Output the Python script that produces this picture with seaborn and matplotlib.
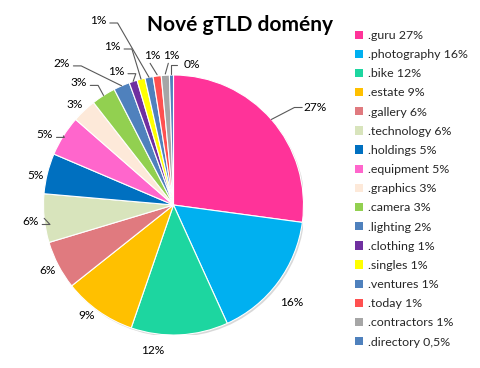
import numpy as np
import matplotlib
matplotlib.use("Agg")
import matplotlib.pyplot as plt
import matplotlib.patches as mpatches
import seaborn as sns

# ---- data ----
domains = [".guru", ".photography", ".bike", ".estate", ".gallery", ".technology",
           ".holdings", ".equipment", ".graphics", ".camera", ".lighting", ".clothing",
           ".singles", ".ventures", ".today", ".contractors", ".directory"]
shares = [27, 16, 12, 9, 6, 6, 5, 5, 3, 3, 2, 1, 1, 1, 1, 1, 0.5]
legend_pct = ["27%", "16%", "12%", "9%", "6%", "6%", "5%", "5%", "3%", "3%", "2%",
              "1%", "1%", "1%", "1%", "1%", "0,5%"]
slice_labels = ["27%", "16%", "12%", "9%", "6%", "6%", "5%", "5%", "3%", "3%", "2%",
                "1%", "1%", "1%", "1%", "1%", "0%"]
colors = ["#FF3399", "#00B0F0", "#1DD6A0", "#FFC000", "#E07A7F", "#D8E4BC",
          "#0070C0", "#FF66CC", "#FDE9D9", "#92D050", "#4F81BD", "#7030A0",
          "#FFFF00", "#4F81BD", "#FF5050", "#A6A6A6", "#4F81BD"]

# label layout (pie units) and leader-line side
label_pos = [(1.09, 0.75), (0.91, -0.75), (-0.16, -1.12), (-0.67, -0.85), (-0.97, -0.50),
             (-1.10, -0.13), (-1.06, 0.23), (-0.99, 0.54), (-0.76, 0.77), (-0.73, 0.94),
             (-0.86, 1.09), (-0.44, 1.03), (-0.47, 1.22), (-0.58, 1.42), (-0.16, 1.15),
             (-0.02, 1.15), (0.14, 1.08)]
leader = ["l", None, None, None, None, "r", None, "r", None, "r", "r", "r", "r", "r", "b", "b", "l"]

sns.set_theme(style="white")
plt.rcParams["font.family"] = ["Lato", "DejaVu Sans"]
palette = sns.color_palette(colors)

W, H = 480, 368
fig = plt.figure(figsize=(W / 100, H / 100), dpi=100)
cx, cy, R = 173.5, 205, 130
ax = fig.add_axes([(cx - R) / W, (H - cy - R) / H, 2 * R / W, 2 * R / H])

wedges, _ = ax.pie(shares, colors=palette, startangle=90, counterclock=False, radius=1.0,
                   wedgeprops=dict(edgecolor="white", linewidth=0.8))
ax.set_xlim(-1, 1)
ax.set_ylim(-1, 1)
ax.set_aspect("equal")
ax.axis("off")
for w in wedges:
    w.set_zorder(1)

# soft shadow
ax.add_patch(mpatches.Circle((0.012, -0.014), 1.0, color="#bfbfbf", alpha=0.6, zorder=0, lw=0))

fs = 8.6
for w, lab, (tx, ty), side in zip(wedges, slice_labels, label_pos, leader):
    ang = np.deg2rad((w.theta1 + w.theta2) / 2)
    ex, ey = np.cos(ang), np.sin(ang)
    ax.text(tx, ty, lab, ha="center", va="center", fontsize=fs, color="#000000",
            clip_on=False, zorder=3)
    if side is not None:
        if side == "l":
            ax_, ay_ = tx - 0.14, ty
            xs = [ex, ax_ - 0.02, ax_ + 0.04]
            ys = [ey, ay_, ay_]
            if lab == "0%":
                xs = [ex, ex, tx - 0.11]
                ys = [ey + 0.01, ty, ty]
        elif side == "r":
            ax_, ay_ = tx + 0.09, ty - 0.02
            xs = [ax_, ax_ + 0.06, ex]
            ys = [ay_, ay_, ey]
        else:  # below
            xs = [tx - 0.02, ex]
            ys = [ty - 0.06, ey + 0.01]
        ax.plot(xs, ys, color="#595959", lw=0.8, clip_on=False, zorder=2)

fig.text(240 / W, 1 - 25 / H, "Nové gTLD domény", ha="center", va="center",
         fontsize=15, fontweight="bold", color="#000000")

handles = [mpatches.Patch(facecolor=c, edgecolor="none") for c in palette]
labels = [f"{d} {p}" for d, p in zip(domains, legend_pct)]
fig.legend(handles, labels, loc="upper left", bbox_to_anchor=(355 / W, 1 - 30 / H),
           frameon=False, fontsize=8.9, handlelength=0.65, handleheight=0.65,
           handletextpad=0.4, labelspacing=0.66, borderaxespad=0, borderpad=0)

fig.savefig("out.png", dpi=100, facecolor="white")
